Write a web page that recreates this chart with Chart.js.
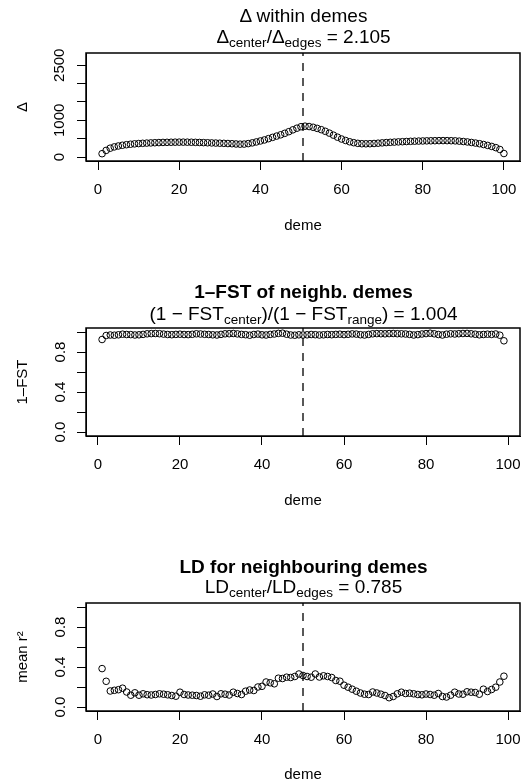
<!DOCTYPE html>
<html>
<head>
<meta charset="utf-8">
<script src="https://cdn.jsdelivr.net/npm/chart.js@4.4.1/dist/chart.umd.min.js"></script>
<style>
html, body { margin: 0; padding: 0; background: #fff; overflow: hidden; }
body { width: 525px; height: 784px; position: relative; font-family: "Liberation Sans", Arial, sans-serif; color: #000; }
.panel { position: absolute; left: 0; width: 525px; }
.panel canvas { position: absolute; left: 0; top: 0; }
.ttl { position: absolute; left: 86px; width: 435px; text-align: center; font-size: 19px; line-height: 19px; white-space: nowrap; }
.ttl.bold { font-weight: bold; }
.ttl sub { font-size: 13.5px; vertical-align: -4px; line-height: 0; }
</style>
</head>
<body>
<div class="panel" id="p1" style="top:0;height:275px">
  <canvas id="c1" width="525" height="275"></canvas>
  <div class="ttl" style="top:6px">&Delta; within demes</div>
  <div class="ttl" style="top:27px">&Delta;<sub>center</sub>/&Delta;<sub>edges</sub> = 2.105</div>
</div>
<div class="panel" id="p2" style="top:275px;height:275px">
  <canvas id="c2" width="525" height="275"></canvas>
  <div class="ttl bold" style="top:7px">1&ndash;FST of neighb. demes</div>
  <div class="ttl" style="top:29px">(1 &minus; FST<sub>center</sub>)/(1 &minus; FST<sub>range</sub>) = 1.004</div>
</div>
<div class="panel" id="p3" style="top:550px;height:234px">
  <canvas id="c3" width="525" height="234"></canvas>
  <div class="ttl bold" style="top:7px">LD for neighbouring demes</div>
  <div class="ttl" style="top:27px">LD<sub>center</sub>/LD<sub>edges</sub> = 0.785</div>
</div>
<script>
// x axis ticks (deme)
const demeTicks = [0, 20, 40, 60, 80, 100];

// y ticks for each panel (R drops labels that would overlap)
const deltaTicks = [0, 500, 1000, 1500, 2000, 2500];
const deltaTickLabels = ['0', '', '1000', '', '', '2500'];
const propTicks = [0, 0.2, 0.4, 0.6, 0.8, 1.0];
const propTickLabels = ['0.0', '', '0.4', '', '0.8', ''];

// delta within demes, demes 1..100
const deltaValues = [
    90, 180, 240, 275, 300, 320, 335, 348, 358, 366,
    373, 379, 384, 389, 393, 397, 400, 402, 404, 405,
    405, 404, 402, 399, 396, 392, 388, 384, 380, 376,
    372, 367, 362, 355, 350, 352, 365, 385, 410, 437,
    465, 500, 535, 570, 605, 645, 690, 740, 785, 825,
    840, 830, 810, 780, 745, 700, 650, 595, 540, 490,
    450, 415, 390, 372, 362, 360, 362, 368, 376, 385,
    393, 400, 406, 412, 417, 422, 427, 431, 434, 437,
    440, 442, 444, 446, 447, 446, 444, 440, 432, 422,
    410, 396, 380, 362, 340, 316, 288, 255, 205, 95
];

// 1-FST between neighbouring demes, 1..99
const fstValues = [
    0.925, 0.965, 0.970, 0.968, 0.972, 0.978, 0.975, 0.974, 0.970, 0.972,
    0.976, 0.982, 0.984, 0.985, 0.983, 0.979, 0.975, 0.973, 0.976, 0.978,
    0.975, 0.974, 0.977, 0.982, 0.980, 0.977, 0.975, 0.972, 0.970, 0.976,
    0.982, 0.983, 0.985, 0.981, 0.976, 0.973, 0.968, 0.975, 0.979, 0.972,
    0.970, 0.976, 0.980, 0.986, 0.988, 0.978, 0.970, 0.968, 0.972, 0.970,
    0.972, 0.975, 0.973, 0.970, 0.972, 0.975, 0.973, 0.976, 0.978, 0.974,
    0.977, 0.981, 0.979, 0.973, 0.970, 0.976, 0.982, 0.984, 0.983, 0.982,
    0.984, 0.985, 0.983, 0.982, 0.980, 0.976, 0.970, 0.974, 0.980, 0.984,
    0.988, 0.982, 0.975, 0.970, 0.978, 0.982, 0.980, 0.983, 0.985, 0.986,
    0.982, 0.978, 0.972, 0.975, 0.978, 0.976, 0.980, 0.968, 0.912
];

// mean r^2 for neighbouring demes, 1..99
const ldValues = [
    0.384, 0.257, 0.160, 0.167, 0.173, 0.188, 0.150, 0.118, 0.142, 0.118,
    0.132, 0.123, 0.120, 0.125, 0.132, 0.128, 0.122, 0.115, 0.108, 0.148,
    0.125, 0.120, 0.118, 0.115, 0.108, 0.122, 0.118, 0.130, 0.105, 0.132,
    0.128, 0.120, 0.148, 0.135, 0.125, 0.158, 0.170, 0.165, 0.200, 0.207,
    0.250, 0.242, 0.232, 0.288, 0.285, 0.298, 0.295, 0.305, 0.330, 0.315,
    0.305, 0.298, 0.330, 0.300, 0.312, 0.305, 0.295, 0.265, 0.258, 0.218,
    0.198, 0.178, 0.158, 0.140, 0.128, 0.125, 0.150, 0.140, 0.128, 0.115,
    0.093, 0.105, 0.132, 0.148, 0.135, 0.138, 0.132, 0.125, 0.122, 0.130,
    0.125, 0.118, 0.135, 0.105, 0.100, 0.118, 0.148, 0.130, 0.128, 0.152,
    0.148, 0.145, 0.128, 0.178, 0.155, 0.175, 0.198, 0.250, 0.308
];

Chart.defaults.font.family = '"Liberation Sans", Arial, sans-serif';
Chart.defaults.font.size = 15;
Chart.defaults.color = '#000';

const BOX_TOP = 53;
const BOX_BOTTOM = 161;

const boxPlugin = {
    id: 'rbox',
    afterDraw(chart) {
        const a = chart.chartArea;
        const ctx = chart.ctx;
        ctx.save();
        ctx.strokeStyle = '#000';
        ctx.lineWidth = 1.5;
        ctx.strokeRect(a.left, a.top, a.right - a.left, a.bottom - a.top);
        ctx.restore();
    }
};

function makePanel(cfg) {
    const n = cfg.values.length;
    const xPad = (n - 1) * 0.04;
    const h = cfg.height;
    return new Chart(document.getElementById(cfg.canvas), {
        type: 'scatter',
        data: {
            datasets: [
                {
                    data: cfg.values.map((v, i) => ({ x: i + 1, y: v })),
                    pointStyle: 'circle',
                    pointRadius: 3.3,
                    borderWidth: 1,
                    borderColor: '#000',
                    backgroundColor: 'rgba(0,0,0,0)'
                },
                {
                    data: [{ x: cfg.center, y: cfg.yMin }, { x: cfg.center, y: cfg.yMax }],
                    showLine: true,
                    borderColor: '#222',
                    borderWidth: 1.5,
                    borderDash: [8, 7],
                    pointRadius: 0
                }
            ]
        },
        options: {
            responsive: false,
            animation: false,
            devicePixelRatio: 1,
            layout: { padding: { left: 0, right: 4, top: BOX_TOP, bottom: 0 } },
            plugins: { legend: { display: false }, tooltip: { enabled: false } },
            scales: {
                x: {
                    type: 'linear',
                    min: 1 - xPad,
                    max: n + xPad,
                    afterBuildTicks: (s) => { s.ticks = demeTicks.map(v => ({ value: v })); },
                    afterFit: (s) => { s.height = h - BOX_BOTTOM; s.paddingLeft = 0; s.paddingRight = 0; },
                    grid: { drawOnChartArea: false, tickLength: 9, color: '#000' },
                    border: { color: '#000', width: 1 },
                    ticks: { autoSkip: false, minRotation: 0, maxRotation: 0, padding: 11, callback: (v) => String(v) },
                    title: { display: true, text: 'deme', padding: { top: 0, bottom: Math.max(0, h - 9 - 226) } }
                },
                y: {
                    type: 'linear',
                    min: cfg.yMin,
                    max: cfg.yMax,
                    afterBuildTicks: (s) => { s.ticks = cfg.yTicks.map(v => ({ value: v })); },
                    afterFit: (s) => { s.width = 86; s.paddingTop = 0; s.paddingBottom = 0; },
                    grid: { drawOnChartArea: false, tickLength: 9, color: '#000' },
                    border: { color: '#000', width: 1 },
                    ticks: {
                        autoSkip: false,
                        minRotation: 90, maxRotation: 90, crossAlign: 'center',
                        padding: cfg.yTickPad,
                        callback: (v, i) => cfg.yLabels[i]
                    },
                    title: { display: true, text: cfg.yTitle, padding: { top: 14, bottom: 0 } }
                }
            }
        },
        plugins: [boxPlugin]
    });
}

makePanel({
    canvas: 'c1', height: 275, values: deltaValues, center: 50.5,
    yMin: -109, yMax: 2834, yTicks: deltaTicks, yLabels: deltaTickLabels,
    yTitle: 'Δ', yTickPad: 0
});
makePanel({
    canvas: 'c2', height: 275, values: fstValues, center: 50,
    yMin: -0.04, yMax: 1.04, yTicks: propTicks, yLabels: propTickLabels,
    yTitle: '1–FST', yTickPad: 6
});
makePanel({
    canvas: 'c3', height: 234, values: ldValues, center: 50,
    yMin: -0.04, yMax: 1.04, yTicks: propTicks, yLabels: propTickLabels,
    yTitle: 'mean r²', yTickPad: 6
});
</script>
</body>
</html>
